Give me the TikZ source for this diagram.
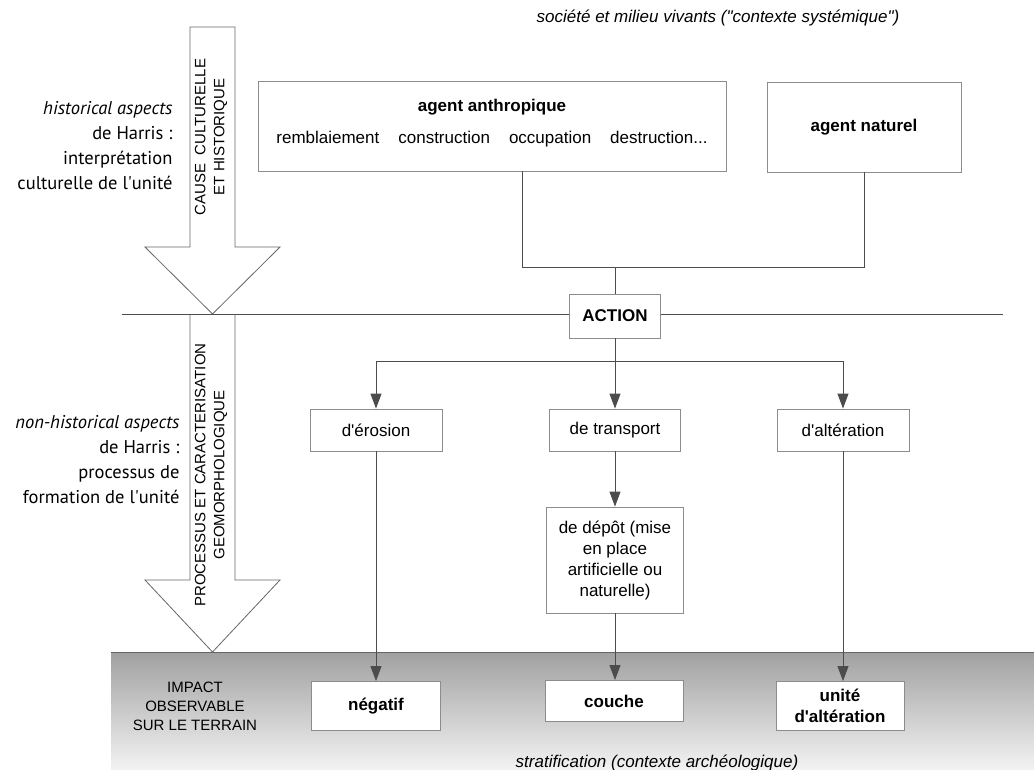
\documentclass[tikz,border=0pt]{standalone}
\usepackage{fontspec}
\setmainfont{Liberation Sans}
\newfontfamily\sidefont{PT Sans}
\usetikzlibrary{arrows.meta}
\newcommand{\q}{\textquotesingle}

\begin{document}
\begin{tikzpicture}[x=1pt,y=-1pt,
  box/.style={draw=black!45,line width=0.9pt,fill=white,align=center,inner sep=0pt,
    font=\fontsize{17}{21}\selectfont},
  link/.style={draw=black!70,line width=0.9pt},
  arr/.style={link,-{Triangle[length=15pt,width=11pt]}},
  bigarrow/.style={draw=black!60,line width=0.8pt,fill=white},
  side/.style={align=right,anchor=east,font=\sidefont\fontsize{18.5}{25}\selectfont},
  caps/.style={align=center,font=\fontsize{15}{19}\selectfont}]
\useasboundingbox (0,0) rectangle (1034,769);
\shade[top color=black!37,bottom color=black!5] (111,652) rectangle (1034,769);
\draw[black!60,line width=1.6pt] (111,652.5) -- (1034,652.5);
\node[font=\itshape\fontsize{17}{20}\selectfont] (society) at (718,18) {société et milieu vivants (\textquotedbl contexte systémique\textquotedbl)};
\node[font=\itshape\fontsize{17}{20}\selectfont,anchor=base] (strati) at (657,767) {stratification (contexte archéologique)};
\draw[bigarrow] (190,27) -- (190,247) -- (145,247) -- (212.5,314) -- (280,247) -- (235,247) -- (235,27) -- cycle;
\draw[bigarrow] (190,314) -- (190,580) -- (145,580) -- (212.5,652) -- (280,580) -- (235,580) -- (235,314);
\node[caps,rotate=90] (cause) at (211,137) {CAUSE\ \ CULTURELLE\\ET HISTORIQUE};
\node[caps,rotate=90] (process) at (211,475) {PROCESSUS ET CARACTERISATION\\GEOMORPHOLOGIQUE};
\node[side] (hist) at (176,146) {\itshape historical aspects\\de Harris :\\interprétation\\culturelle de l\q unité};
\node[side] (nonhist) at (183,460) {\itshape non-historical aspects\\de Harris :\\processus de\\formation de l\q unité};
\node[caps] (impact) at (195,706) {IMPACT\\OBSERVABLE\\SUR LE TERRAIN};
\node[box,minimum width=468,minimum height=90] (anthro) at (492,126) {};
\node[font=\bfseries\fontsize{17}{20}\selectfont] (anthrotitle) at (492,107) {agent anthropique};
\node[font=\fontsize{17}{20}\selectfont] (anthrolist) at (492,139) {remblaiement\hspace{19pt}construction\hspace{19pt}occupation\hspace{19pt}destruction...};
\node[box,minimum width=194,minimum height=90,font=\bfseries\fontsize{17}{20}\selectfont] (naturel) at (864,127) {agent naturel};
\coordinate (join) at (615,267);
\draw[link] ([xshift=30pt]anthro.south) |- (naturel.south |- join) -- (naturel.south);
\node[box,minimum width=91,minimum height=44,font=\bfseries\fontsize{17}{20}\selectfont] (action) at (615,316) {ACTION};
\draw[link] (join) -- (action);
\draw[link] (122,314.5) -- (action.west |- 0,314.5);
\draw[link] (action.east |- 0,314.5) -- (1003,314.5);
\node[box,minimum width=132,minimum height=42] (erosion) at (376,430) {d\q érosion};
\node[box,minimum width=131,minimum height=42] (transport) at (615,430) {de transport};
\node[box,minimum width=132,minimum height=42] (alteration) at (843,430) {d\q altération};
\coordinate (fork) at (615,361);
\draw[link] (action) -- (fork);
\draw[arr] (fork) -| (erosion);
\draw[arr] (fork) -| (alteration);
\draw[arr] (fork) -- (transport);
\node[box,minimum width=137,minimum height=106] (depot) at (615,560) {de dépôt (mise\\en place\\artificielle ou\\naturelle)};
\draw[arr] (transport) -- (depot);
\node[box,minimum width=129,minimum height=49,font=\bfseries\fontsize{17}{21}\selectfont] (negatif) at (376,706) {négatif};
\node[box,minimum width=138,minimum height=41,font=\bfseries\fontsize{17}{21}\selectfont] (couche) at (614,701) {couche};
\node[box,minimum width=128,minimum height=49,font=\bfseries\fontsize{17}{21}\selectfont] (unite) at (840,706) {unité\\d\q altération};
\draw[arr] (erosion) -- (negatif);
\draw[arr] (depot) -- (couche.north -| depot.south);
\draw[arr] (alteration.south) -- (alteration.south |- unite.north);
\end{tikzpicture}
\end{document}
